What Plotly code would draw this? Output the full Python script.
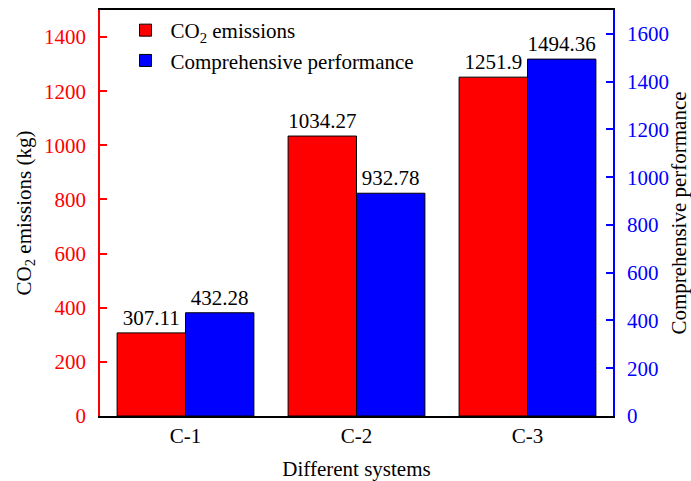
import plotly.graph_objects as go

categories = ["C-1", "C-2", "C-3"]
co2_emissions = [307.11, 1034.27, 1251.9]
comprehensive_performance = [432.28, 932.78, 1494.36]
co2_labels = ["307.11", "1034.27", "1251.9"]
perf_labels = ["432.28", "932.78", "1494.36"]
left_ticks = [0, 200, 400, 600, 800, 1000, 1200, 1400]
right_ticks = [0, 200, 400, 600, 800, 1000, 1200, 1400, 1600]

FONT = "Liberation Serif"
FS = 21
RED = "#FF0000"
BLUE = "#0000FF"

fig = go.Figure()
fig.add_trace(go.Bar(
    x=categories, y=co2_emissions, name="CO<sub>2</sub> emissions",
    marker=dict(color=RED, line=dict(color="black", width=1)),
    width=0.4, offset=-0.4,
    text=co2_labels, textposition="outside", cliponaxis=False,
    textfont=dict(family=FONT, size=FS, color="black"),
    yaxis="y",
))
fig.add_trace(go.Bar(
    x=categories, y=comprehensive_performance, name="Comprehensive performance",
    marker=dict(color=BLUE, line=dict(color="black", width=1)),
    width=0.4, offset=0,
    text=perf_labels, textposition="outside", cliponaxis=False,
    textfont=dict(family=FONT, size=FS, color="black"),
    yaxis="y2",
))

fig.update_layout(
    width=691, height=481,
    margin=dict(l=100, r=78, t=10, b=65),
    paper_bgcolor="white", plot_bgcolor="white",
    font=dict(family=FONT, size=FS, color="black"),
    showlegend=True,
    legend=dict(x=0.04, y=1.0, xanchor="left", yanchor="top",
                bgcolor="rgba(0,0,0,0)", font=dict(family=FONT, size=FS),
                tracegroupgap=0, itemwidth=40),
    xaxis=dict(
        range=[-0.5, 2.5], showline=True, linecolor="black", linewidth=1.5,
        mirror=True, ticks="", showgrid=False, zeroline=False, automargin=False,
        tickfont=dict(family=FONT, size=FS, color="black"),
        title=dict(text="Different systems", font=dict(family=FONT, size=FS), standoff=14),
    ),
    yaxis=dict(
        range=[0, 1500], tickvals=left_ticks, showline=True, linecolor=RED, linewidth=1.5,
        ticks="inside", ticklen=7, tickcolor=RED, tickwidth=1.5, automargin=False,
        showgrid=False, zeroline=False, ticklabelstandoff=8,
        tickfont=dict(family=FONT, size=FS, color=RED),
        title=dict(text="CO<sub>2</sub> emissions (kg)", font=dict(family=FONT, size=FS, color="black"), standoff=7),
    ),
    yaxis2=dict(
        range=[0, 1700], tickvals=right_ticks, overlaying="y", side="right",
        showline=True, linecolor=BLUE, linewidth=1.5, automargin=False,
        ticks="inside", ticklen=7, tickcolor=BLUE, tickwidth=1.5,
        showgrid=False, zeroline=False, ticklabelstandoff=8,
        tickfont=dict(family=FONT, size=FS, color=BLUE),
        title=dict(text="Comprehensive performance", font=dict(family=FONT, size=FS, color="black"), standoff=6),
    ),
)

fig.write_html("out.html")
